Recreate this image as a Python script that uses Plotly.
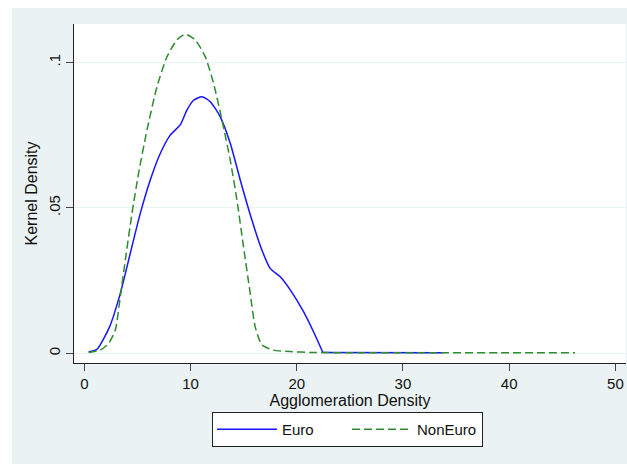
import plotly.graph_objects as go

euro_x = [0.41, 1.19, 2.38, 3.39, 4.33, 5.27, 6.21, 7.15, 8.09, 9.03, 9.66, 10.29, 11.07,
          11.86, 12.8, 13.74, 14.68, 15.78, 16.72, 17.5, 18.45, 19.39, 20.64, 21.58, 22.46]
euro_y = [0.00055, 0.0014, 0.0091, 0.0206, 0.0344, 0.0481, 0.0596, 0.0687, 0.0750, 0.0785,
          0.0836, 0.0870, 0.0882, 0.0865, 0.0813, 0.0722, 0.0596, 0.0458, 0.0355, 0.0292,
          0.0263, 0.0218, 0.0143, 0.0074, 0.0003]
euro_tail_x = [22.46, 28.0, 33.8]
euro_tail_y = [0.0003, 0.0002, 0.0002]

noneuro_x = [0.41, 1.5, 2.29, 2.92, 3.39, 3.86, 4.49, 5.11, 5.9, 6.84, 7.78, 8.72, 9.5,
             10.45, 11.39, 12.17, 12.96, 13.74, 14.37, 14.99, 15.62, 16.09, 16.72, 17.8,
             19.39, 21.3, 26.0, 32.0, 40.0, 46.2]
noneuro_y = [0.0003, 0.0011, 0.0034, 0.008, 0.0195, 0.032, 0.0481, 0.0619, 0.0767, 0.0916,
             0.1019, 0.1077, 0.1097, 0.1077, 0.1019, 0.0928, 0.0802, 0.0664, 0.0527, 0.0366,
             0.0206, 0.0091, 0.0029, 0.0011, 0.0006, 0.0003, 0.0002, 0.0002, 0.0002, 0.0002]

x_ticks = [0, 10, 20, 30, 40, 50]
y_ticks = [0, 0.05, 0.1]
y_tick_text = ["0", ".05", ".1"]

BG = "#eaf2f3"
FONT = "Liberation Sans, Arial, sans-serif"
BLUE = "#1414ff"
GREEN = "#2e8b2e"

fig = go.Figure()
fig.add_trace(go.Scatter(x=euro_x, y=euro_y, mode="lines", name="Euro", legendgroup="e",
                         line=dict(color=BLUE, width=1.5, shape="spline", smoothing=0.6)))
fig.add_trace(go.Scatter(x=euro_tail_x, y=euro_tail_y, mode="lines", name="Euro",
                         legendgroup="e", showlegend=False,
                         line=dict(color=BLUE, width=1.5)))
fig.add_trace(go.Scatter(x=noneuro_x, y=noneuro_y, mode="lines", name="NonEuro",
                         line=dict(color=GREEN, width=1.5, dash="8px,4px",
                                   shape="spline", smoothing=0.6)))

W, H = 627, 464
L, T = 74, 24
R = W - 626
B = H - 363
pw, ph = W - L - R, H - T - B

def px_x(p):
    return (p - L) / pw

def px_y(p):
    return (H - B - p) / ph

fig.update_layout(
    width=W, height=H,
    margin=dict(l=L, r=R, t=T, b=B, pad=0),
    paper_bgcolor=BG, plot_bgcolor="white",
    font=dict(family=FONT, size=15, color="#111"),
    showlegend=True,
    legend=dict(orientation="h", x=px_x(212), xanchor="left", y=px_y(412), yanchor="top",
                bgcolor="white", bordercolor="#222", borderwidth=1,
                font=dict(size=15), itemwidth=60, entrywidth=60, tracegroupgap=0),
    shapes=[
        dict(type="rect", xref="paper", yref="paper", x0=px_x(-2), x1=px_x(12),
             y0=px_y(470), y1=px_y(-2), fillcolor="white", line=dict(width=0), layer="below"),
        dict(type="rect", xref="paper", yref="paper", x0=px_x(-2), x1=px_x(630),
             y0=px_y(8), y1=px_y(-2), fillcolor="white", line=dict(width=0), layer="below"),
    ],
)

fig.update_xaxes(range=[-0.97, 51.0], tickvals=x_ticks, ticks="outside", ticklen=7,
                 tickcolor="#444", showline=True, linecolor="#222", linewidth=1.2,
                 showgrid=False, zeroline=False, tickfont=dict(size=15),
                 title=dict(text="Agglomeration Density", font=dict(size=16), standoff=0))
fig.update_yaxes(range=[-0.00333, 0.1132], tickvals=y_ticks, ticktext=y_tick_text,
                 ticks="outside", ticklen=7, tickcolor="#444", tickangle=-90,
                 showline=True, linecolor="#222", linewidth=1.2,
                 showgrid=True, gridcolor=BG, gridwidth=1.2, zeroline=False,
                 tickfont=dict(size=15),
                 title=dict(text="Kernel Density", font=dict(size=16), standoff=4))

fig.write_html("out.html", config={"displayModeBar": False},
               post_script="document.body.style.margin='0';document.body.style.overflow='hidden';")
